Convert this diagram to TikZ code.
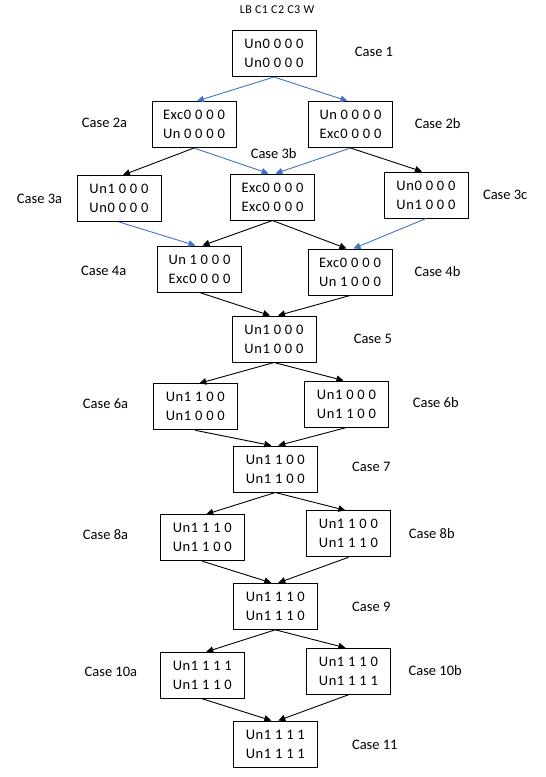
\documentclass[tikz,border=0pt]{standalone}
\usepackage{fontspec}
\setmainfont{Carlito}
\newfontfamily\boxfont[LetterSpace=4]{Carlito}
\usetikzlibrary{arrows.meta}
\definecolor{wblue}{HTML}{4472C4}
\newcommand\ux{\makebox[21pt][l]{Un}}
\begin{document}
\begin{tikzpicture}[x=1pt,y=-1pt,
  box/.style={draw,line width=1pt,minimum width=84pt,minimum height=46pt,inner sep=0pt,align=center,font=\boxfont\fontsize{14.5}{19}\selectfont},
  lab/.style={inner sep=0pt,font=\fontsize{14.5}{17}\selectfont},
  arr/.style={line width=0.9pt,-{Triangle[length=7pt,width=6.5pt]}},
  barr/.style={arr,draw=wblue,-{Triangle[length=7pt,width=6.5pt,fill=wblue]}}]
\useasboundingbox (0,0) rectangle (546,777);
\node[inner sep=0pt,font=\boxfont\fontsize{12}{14}\selectfont] (hd) at (277,10) {LB C1 C2 C3 W};
\node[box] (n1) at (274,53.5) {Un0 0 0 0\\Un0 0 0 0};
\node[box] (n2a) at (194,124.5) {Exc0 0 0 0\\\ux0 0 0 0};
\node[box] (n2b) at (350.5,124.5) {\ux0 0 0 0\\Exc0 0 0 0};
\node[box] (n3a) at (119,198.5) {Un1 0 0 0\\Un0 0 0 0};
\node[box] (n3b) at (272.5,197) {Exc0 0 0 0\\Exc0 0 0 0};
\node[box] (n3c) at (426,195) {Un0 0 0 0\\Un1 0 0 0};
\node[box] (n4a) at (199.5,269) {\ux1 0 0 0\\Exc0 0 0 0};
\node[box] (n4b) at (350,272) {Exc0 0 0 0\\\ux1 0 0 0};
\node[box] (n5) at (274,339) {Un1 0 0 0\\Un1 0 0 0};
\node[box] (n6a) at (195.3,406.8) {Un1 1 0 0\\Un1 0 0 0};
\node[box] (n6b) at (346.5,404) {Un1 0 0 0\\Un1 1 0 0};
\node[box] (n7) at (275.3,469) {Un1 1 0 0\\Un1 1 0 0};
\node[box] (n8a) at (202.3,537.7) {Un1 1 1 0\\Un1 1 0 0};
\node[box] (n8b) at (348.4,533.8) {Un1 1 0 0\\Un1 1 1 0};
\node[box] (n9) at (275.3,606.3) {Un1 1 1 0\\Un1 1 1 0};
\node[box] (n10a) at (202.3,675.3) {Un1 1 1 1\\Un1 1 1 0};
\node[box] (n10b) at (348.4,671.3) {Un1 1 1 0\\Un1 1 1 1};
\node[box] (n11) at (275.3,744) {Un1 1 1 1\\Un1 1 1 1};
\node[lab] (l1) at (374,52) {Case 1};
\node[lab] (l2a) at (104.5,123.3) {Case 2a};
\node[lab] (l2b) at (437.7,123.3) {Case 2b};
\node[lab] (l3a) at (39.5,199.3) {Case 3a};
\node[lab] (l3b) at (273.7,153.5) {Case 3b};
\node[lab] (l3c) at (505.2,195) {Case 3c};
\node[lab] (l4a) at (103.7,271) {Case 4a};
\node[lab] (l4b) at (437.5,271.7) {Case 4b};
\node[lab] (l5) at (372.9,339.3) {Case 5};
\node[lab] (l6a) at (105.5,403.7) {Case 6a};
\node[lab] (l6b) at (435.8,402.7) {Case 6b};
\node[lab] (l7) at (371.3,466.7) {Case 7};
\node[lab] (l8a) at (105.5,534.3) {Case 8a};
\node[lab] (l8b) at (431.8,533.3) {Case 8b};
\node[lab] (l9) at (371.3,607) {Case 9};
\node[lab] (l10a) at (110.9,671.7) {Case 10a};
\node[lab] (l10b) at (435.2,670.3) {Case 10b};
\node[lab] (l11) at (374.8,745.3) {Case 11};
% connectors
\draw[barr] (n1.south) -- ([xshift=3pt]n2a.north);
\draw[barr] (n1.south) -- ([xshift=-3pt]n2b.north);
\draw[arr] (n2a.south) -- ([xshift=4pt]n3a.north);
\draw[barr] (n2a.south) -- ([xshift=-4pt]n3b.north);
\draw[barr] (n2b.south) -- ([xshift=3pt]n3b.north);
\draw[arr] (n2b.south) -- ([xshift=-4pt]n3c.north);
\draw[barr] (n3a.south) -- ([xshift=-4pt]n4a.north);
\draw[arr] (n3b.south) -- ([xshift=3pt]n4a.north);
\draw[arr] (n3b.south) -- ([xshift=-3.5pt]n4b.north);
\draw[barr] (n3c.south) -- ([xshift=3.5pt]n4b.north);
\draw[arr] (n4a.south) -- ([xshift=-4pt]n5.north);
\draw[arr] (n4b.south) -- ([xshift=4pt]n5.north);
\draw[arr] (n5.south) -- ([xshift=4pt]n6a.north);
\draw[arr] (n5.south) -- ([xshift=-3pt]n6b.north);
\draw[arr] (n6a.south) -- ([xshift=-4pt]n7.north);
\draw[arr] (n6b.south) -- ([xshift=3pt]n7.north);
\draw[arr] (n7.south) -- ([xshift=4pt]n8a.north);
\draw[arr] (n7.south) -- ([xshift=-3pt]n8b.north);
\draw[arr] (n8a.south) -- ([xshift=-4pt]n9.north);
\draw[arr] (n8b.south) -- ([xshift=3pt]n9.north);
\draw[arr] (n9.south) -- ([xshift=4pt]n10a.north);
\draw[arr] (n9.south) -- ([xshift=-3pt]n10b.north);
\draw[arr] (n10a.south) -- ([xshift=-4pt]n11.north);
\draw[arr] (n10b.south) -- ([xshift=3pt]n11.north);
\end{tikzpicture}
\end{document}
